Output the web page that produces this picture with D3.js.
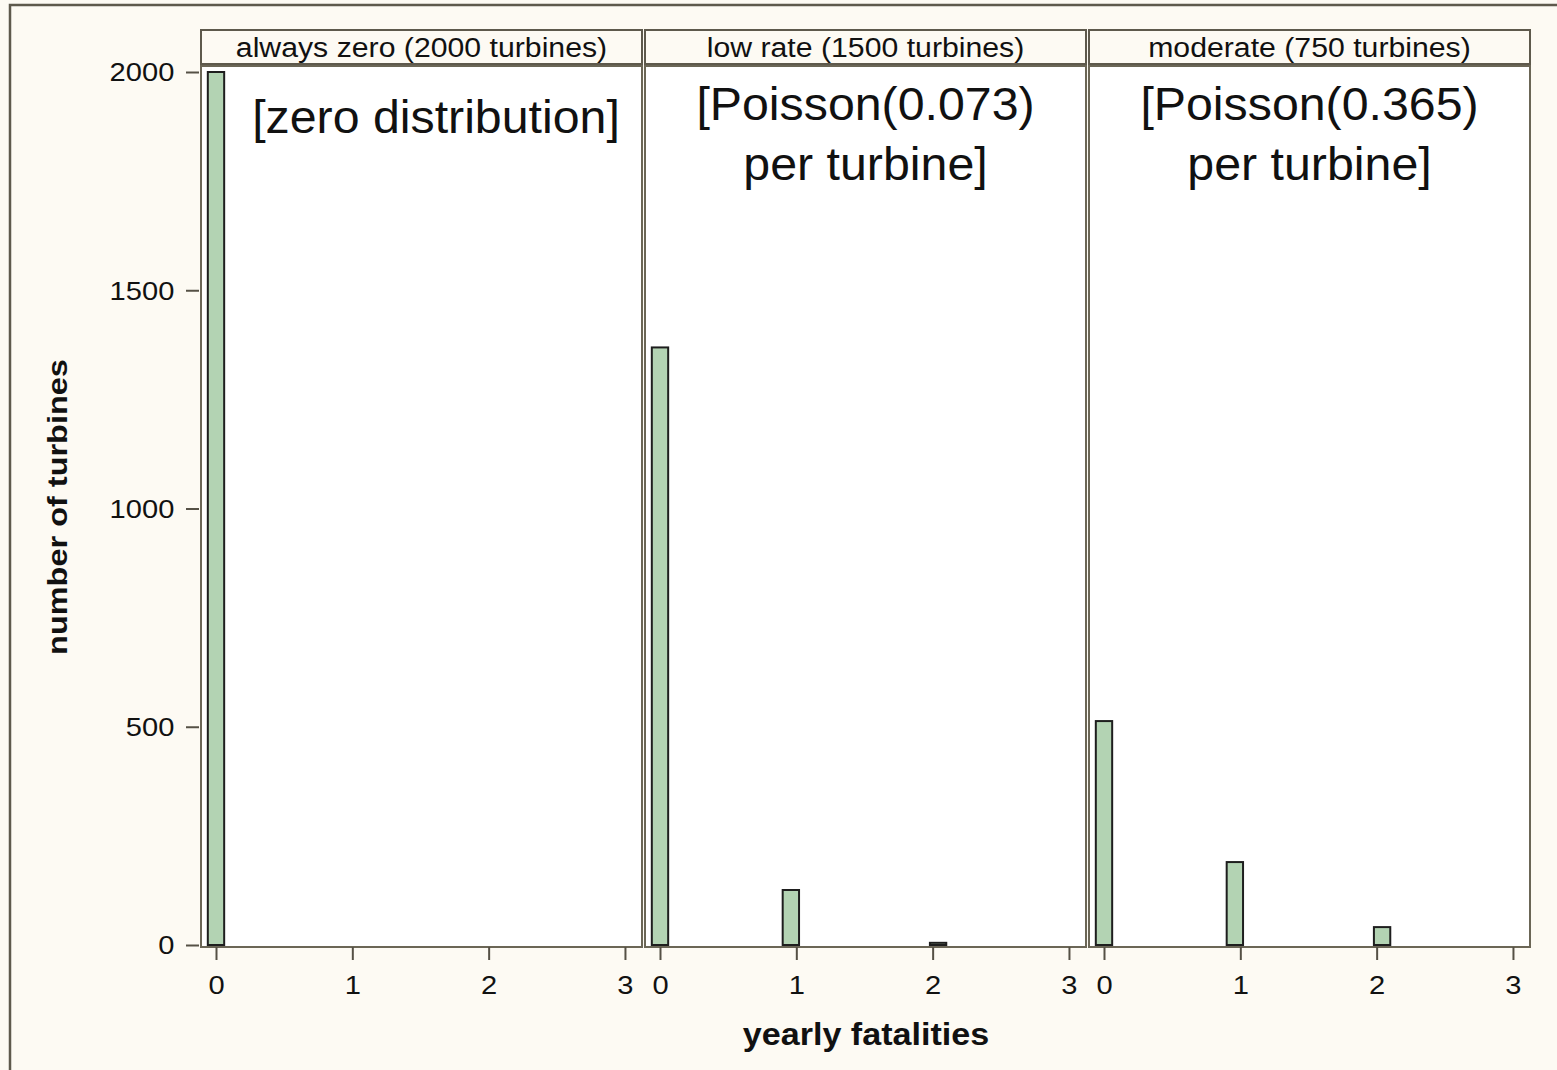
<!DOCTYPE html>
<html>
<head>
<meta charset="utf-8">
<script src="https://cdn.jsdelivr.net/npm/d3@7"></script>
<style>
  body { margin: 0; background: #fdfaf3; }
  text { font-family: "Liberation Sans", Arial, sans-serif; fill: #111; }
</style>
</head>
<body>
<div id="chart"></div>
<script>
// histogram bins (yearly fatalities, bin width 0.12)
const binMids = [0, 0.12, 0.24, 0.36, 0.48, 0.60, 0.72, 0.84, 0.96, 1.08, 1.20, 1.32, 1.44,
                 1.56, 1.68, 1.80, 1.92, 2.04, 2.16, 2.28, 2.40, 2.52, 2.64, 2.76, 2.88, 3.00];
const binWidth = 0.12;

const panelTitles = ["always zero (2000 turbines)", "low rate (1500 turbines)", "moderate (750 turbines)"];
const panelNotes = [["[zero distribution]"], ["[Poisson(0.073)", "per turbine]"], ["[Poisson(0.365)", "per turbine]"]];

const countsZero     = [2000, 0, 0, 0, 0, 0, 0, 0, 0,   0, 0, 0, 0, 0, 0, 0, 0, 0,  0, 0, 0, 0, 0, 0, 0, 0];
const countsLow      = [1369, 0, 0, 0, 0, 0, 0, 0, 126, 0, 0, 0, 0, 0, 0, 0, 0, 5,  0, 0, 0, 0, 0, 0, 0, 0];
const countsModerate = [513,  0, 0, 0, 0, 0, 0, 0, 190, 0, 0, 0, 0, 0, 0, 0, 0, 41, 0, 0, 0, 0, 0, 0, 0, 0];
const panelCounts = [countsZero, countsLow, countsModerate];

const yTicks = [0, 500, 1000, 1500, 2000];
const xTicks = [0, 1, 2, 3];

// layout
const W = 1557, H = 1070;
const panelLeft = [201, 645, 1089];
const panelW = 441;
const stripTop = 30, stripH = 34;
const plotTop = 66, plotBottom = 947;
const stretch = 1.12;   // the original text is a bit wider than Arial

const svg = d3.select("#chart").append("svg")
    .attr("width", W)
    .attr("height", H);

svg.append("rect")
    .attr("width", W).attr("height", H)
    .attr("fill", "#fdfaf3");

// outer frame (only left/top visible)
svg.append("rect")
    .attr("x", 10).attr("y", 5)
    .attr("width", W + 20).attr("height", H + 20)
    .attr("fill", "none")
    .attr("stroke", "#5e594c")
    .attr("stroke-width", 2.5);

const y = d3.scaleLinear().domain([0, 2000]).range([945, 72]);
const x = d3.scaleLinear().domain([-0.11, 3.125]).range([0, panelW]);

// y axis
const yAxis = svg.append("g")
    .attr("transform", "translate(199,0)")
    .call(d3.axisLeft(y).tickValues(yTicks).tickSize(13).tickPadding(9).tickFormat(d3.format("d")));
yAxis.select(".domain").remove();
yAxis.selectAll(".tick line").attr("stroke", "#555045").attr("stroke-width", 2);
yAxis.selectAll(".tick text")
    .style("font-size", "26px")
    .attr("dy", "0.34em")
    .attr("transform", `scale(${stretch},1)`);

panelLeft.forEach((px, i) => {
    const g = svg.append("g").attr("transform", `translate(${px},0)`);

    // strip header
    g.append("rect")
        .attr("x", 0).attr("y", stripTop)
        .attr("width", panelW).attr("height", stripH)
        .attr("fill", "#fdfaf3")
        .attr("stroke", "#5e594c")
        .attr("stroke-width", 2);
    g.append("text")
        .attr("transform", `translate(${panelW / 2},57) scale(${stretch},1)`)
        .attr("text-anchor", "middle")
        .style("font-size", "27px")
        .text(panelTitles[i]);

    // plot area
    g.append("rect")
        .attr("x", 0).attr("y", plotTop)
        .attr("width", panelW).attr("height", plotBottom - plotTop)
        .attr("fill", "#ffffff")
        .attr("stroke", "#6b6656")
        .attr("stroke-width", 2);

    // bars
    g.selectAll(".bar")
        .data(binMids.map((m, j) => ({mid: m, n: panelCounts[i][j]})))
        .enter().append("rect")
        .attr("class", "bar")
        .attr("x", d => x(d.mid - binWidth / 2))
        .attr("width", d => x(d.mid + binWidth / 2) - x(d.mid - binWidth / 2))
        .attr("y", d => y(d.n))
        .attr("height", d => y(0) - y(d.n))
        .attr("fill", "#b3d3b3")
        .attr("stroke", "#1e1e1e")
        .attr("stroke-width", 2);

    // notes
    panelNotes[i].forEach((line, k) => {
        const nx = i === 0 ? 235 : panelW / 2;
        const ny = (i === 0 ? 133 : 120) + k * 60;
        g.append("text")
            .attr("transform", `translate(${nx},${ny}) scale(1.05,1)`)
            .attr("text-anchor", "middle")
            .style("font-size", "46px")
            .text(line);
    });

    // x axis
    const xa = g.append("g")
        .attr("transform", `translate(0,${plotBottom})`)
        .call(d3.axisBottom(x).tickValues(xTicks).tickSize(13).tickPadding(8).tickFormat(d3.format("d")));
    xa.select(".domain").remove();
    xa.selectAll(".tick line").attr("stroke", "#555045").attr("stroke-width", 2);
    xa.selectAll(".tick text")
        .style("font-size", "26px")
        .attr("y", 47).attr("dy", 0)
        .attr("transform", `scale(${stretch},1)`);
});

// axis titles
svg.append("text")
    .attr("transform", "translate(866,1045) scale(1.1,1)")
    .attr("text-anchor", "middle")
    .style("font-size", "31px")
    .style("font-weight", "bold")
    .text("yearly fatalities");

svg.append("text")
    .attr("transform", "translate(67,507) rotate(-90) scale(1.16,1)")
    .attr("text-anchor", "middle")
    .style("font-size", "28px")
    .style("font-weight", "bold")
    .text("number of turbines");
</script>
</body>
</html>
